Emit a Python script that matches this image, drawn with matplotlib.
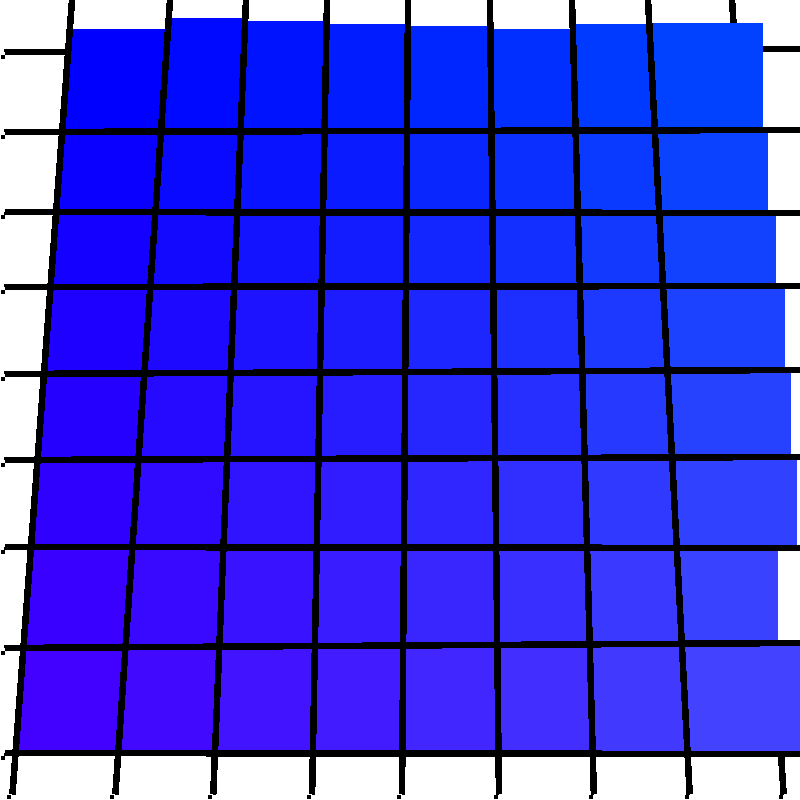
import numpy as np
import matplotlib
matplotlib.use("Agg")
import matplotlib.pyplot as plt

# Grid geometry (pixel units)
v_top_x = [72, 170, 246, 327, 408, 490, 572, 648, 732]      # vertical lines at y=0
v_bot_x = [12, 115, 213, 312, 402, 499, 594, 690, 784]      # vertical lines at y=800
h_left_y = [52, 132, 212, 287, 374, 460, 547, 648, 753]     # horizontal lines at x=5
h_right_y = [49, 130, 213, 286, 370, 457, 548, 643, 754]    # horizontal lines at x=800

# Outer edges of the cell block
top_row_edge = [29, 18, 21, 24, 26, 29, 24, 23]             # top of first row, per column
right_col_edge = [763, 768, 776, 785, 791, 797, 778, 800]   # right of last column, per row

# Cell colours: red grows by row, green grows by column, blue full
row_red = [0, 10, 19, 29, 38, 48, 57, 66]
col_green = [0, 9, 19, 28, 38, 47, 57, 66]
blue = 255


def vx(i, y):
    return v_top_x[i] + (v_bot_x[i] - v_top_x[i]) * y / 800.0


def hy(j, x):
    return h_left_y[j] + (h_right_y[j] - h_left_y[j]) * (x - 5) / 795.0


def cross(i, j):
    y = h_left_y[j]
    for _ in range(20):
        x = vx(i, y)
        y = hy(j, x)
    return x, y


fig = plt.figure(figsize=(8, 8), dpi=100)
ax = fig.add_axes([0, 0, 1, 1])
ax.set_xlim(0, 800)
ax.set_ylim(800, 0)
ax.axis("off")

lw = 5.5 * 72 / 100.0
nrows = len(row_red)
ncols = len(col_green)

for r in range(nrows):
    for c in range(ncols):
        p00 = cross(c, r)
        p10 = cross(c + 1, r)
        p11 = cross(c + 1, r + 1)
        p01 = cross(c, r + 1)
        if r == 0:
            p00 = (vx(c, top_row_edge[c]), top_row_edge[c])
            p10 = (vx(c + 1, top_row_edge[c]), top_row_edge[c])
        if c == ncols - 1:
            p10 = (right_col_edge[r], p10[1])
            p11 = (right_col_edge[r], p11[1])
        xs = [p00[0], p10[0], p11[0], p01[0]]
        ys = [p00[1], p10[1], p11[1], p01[1]]
        col = (row_red[r] / 255, col_green[c] / 255, blue / 255)
        ax.fill(xs, ys, color=col, lw=0, zorder=2, antialiased=False)

# horizontal lines
for j in range(len(h_left_y)):
    z = 1 if j == 0 else 3
    ax.plot([5, 800], [h_left_y[j], h_right_y[j]], color="black", lw=lw,
            solid_capstyle="butt", zorder=z, antialiased=False)
    ax.plot([2.5], [h_left_y[j] + 5], marker="s", ms=5 * 0.72, mew=0,
            color="black", zorder=3, antialiased=False)

# vertical lines
for i in range(len(v_top_x)):
    z = 1 if i == len(v_top_x) - 1 else 3
    ax.plot([v_top_x[i], vx(i, 794)], [0, 794], color="black", lw=lw,
            solid_capstyle="butt", zorder=z, antialiased=False)
    ax.plot([vx(i, 797) - 3], [797], marker="s", ms=5 * 0.72, mew=0,
            color="black", zorder=3, antialiased=False)

fig.savefig("out.png", dpi=100)
